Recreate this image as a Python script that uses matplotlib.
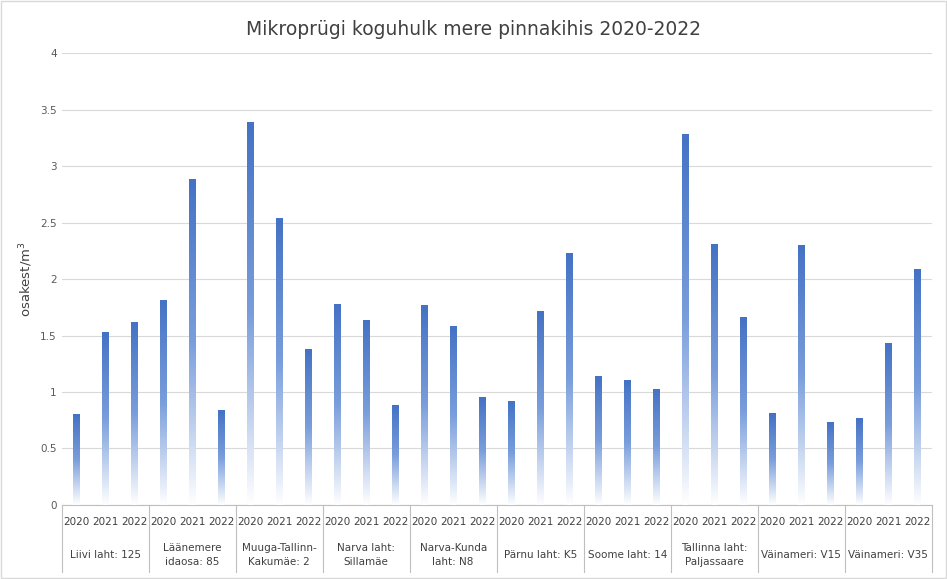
import matplotlib
matplotlib.use("Agg")
import matplotlib.pyplot as plt
import numpy as np
from matplotlib.transforms import blended_transform_factory
from matplotlib.colors import LinearSegmentedColormap

groups = ["Liivi laht: 125", "Läänemere\nidaosa: 85", "Muuga-Tallinn-\nKakumäe: 2", "Narva laht:\nSillamäe",
          "Narva-Kunda\nlaht: N8", "Pärnu laht: K5", "Soome laht: 14", "Tallinna laht:\nPaljassaare",
          "Väinameri: V15", "Väinameri: V35"]
years = ["2020", "2021", "2022"]
values = [
    [0.80, 1.53, 1.62],
    [1.81, 2.88, 0.84],
    [3.39, 2.54, 1.38],
    [1.78, 1.63, 0.88],
    [1.77, 1.58, 0.95],
    [0.92, 1.71, 2.23],
    [1.14, 1.10, 1.02],
    [3.28, 2.31, 1.66],
    [0.81, 2.30, 0.73],
    [0.77, 1.43, 2.09],
]

fig = plt.figure(figsize=(9.47, 5.79), dpi=100)
ax = fig.add_axes([0.065, 0.128, 0.919, 0.78])
cmap = LinearSegmentedColormap.from_list("g", ["#ffffff", "#7a9edc", "#4472c4"])
grad = np.linspace(0, 1, 256).reshape(-1, 1)
w = 0.24
n = len(groups)
for gi, vals in enumerate(values):
    for yi, v in enumerate(vals):
        x = gi * 3 + yi + 0.5
        ax.imshow(grad, cmap=cmap, origin="lower", aspect="auto",
                  extent=[x - w / 2, x + w / 2, 0, v], zorder=3, interpolation="bilinear")
ax.set_xlim(0, 3 * n)
ax.set_ylim(0, 4)
ax.set_yticks(np.arange(0, 4.01, 0.5))
ax.set_yticklabels(["0", "0.5", "1", "1.5", "2", "2.5", "3", "3.5", "4"], fontsize=7.5, color="#595959")
ax.grid(axis="y", color="#d9d9d9", lw=0.8, zorder=0)
for s in ["top", "right", "left"]:
    ax.spines[s].set_visible(False)
ax.spines["bottom"].set_color("#bfbfbf")
ax.tick_params(axis="y", length=0)
ax.tick_params(axis="x", length=0, labelbottom=False)
ax.set_ylabel("osakest/m$^3$", fontsize=9.5, color="#404040")
tr = blended_transform_factory(ax.transData, ax.transAxes)
ax_h = 0.78 * 579
def yax(px):
    return -px / ax_h
for gi in range(n):
    for yi in range(3):
        ax.text(gi * 3 + yi + 0.5, yax(17), years[yi], transform=tr, ha="center", va="center",
                fontsize=7.5, color="#404040")
    ax.text(gi * 3 + 1.5, yax(50), groups[gi], transform=tr, ha="center", va="center",
            fontsize=7.5, color="#404040", linespacing=1.5)
for gi in range(n + 1):
    ax.plot([gi * 3, gi * 3], [0, yax(67)], transform=tr, color="#bfbfbf", lw=0.8, clip_on=False)
fig.suptitle("Mikroprügi koguhulk mere pinnakihis 2020-2022", y=0.965, fontsize=13.5, color="#404040")
fig.patches.append(plt.Rectangle((0.001, 0.001), 0.998, 0.998, transform=fig.transFigure,
                                 fill=False, edgecolor="#d9d9d9", lw=1))
fig.savefig("out.png", dpi=100)
